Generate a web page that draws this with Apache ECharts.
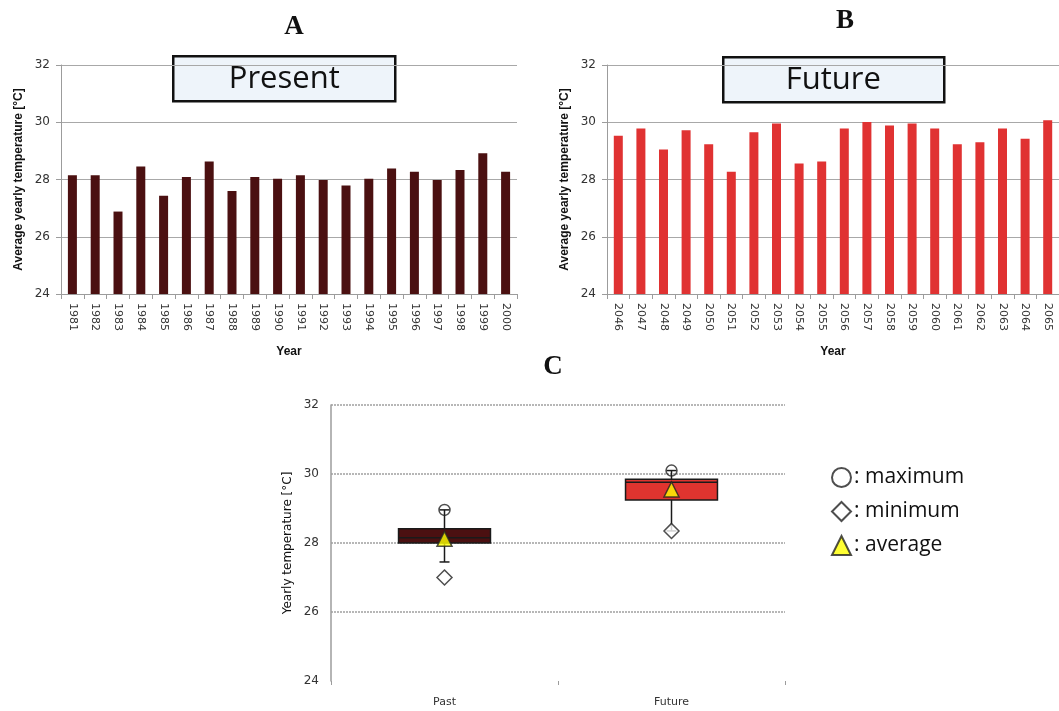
<!DOCTYPE html>
<html><head><meta charset="utf-8">
<script src="https://cdn.jsdelivr.net/npm/echarts@6/dist/echarts.min.js"></script>
<style>html,body{margin:0;padding:0;background:#fff}#c{width:1059px;height:711px}</style>
</head><body><div id="c"></div><script>
// ---- data ----
const presentYears = ['1981','1982','1983','1984','1985','1986','1987','1988','1989','1990','1991','1992','1993','1994','1995','1996','1997','1998','1999','2000'];
const presentTemps = [28.15, 28.15, 26.88, 28.45, 27.43, 28.09, 28.63, 27.60, 28.09, 28.03, 28.15, 27.98, 27.79, 28.03, 28.38, 28.27, 27.98, 28.33, 28.92, 28.27];
const futureYears = ['2046','2047','2048','2049','2050','2051','2052','2053','2054','2055','2056','2057','2058','2059','2060','2061','2062','2063','2064','2065'];
const futureTemps = [29.53, 29.78, 29.05, 29.72, 29.23, 28.27, 29.65, 29.96, 28.56, 28.63, 29.78, 30.01, 29.89, 29.96, 29.78, 29.23, 29.30, 29.78, 29.42, 30.07];
const boxCategories = ['Past', 'Future'];
const whiskerLow = [27.45, 28.35];
const boxQ1 = [28.00, 29.25];
const boxMedian = [28.15, 29.76];
const boxQ3 = [28.41, 29.85];
const whiskerHigh = [28.96, 30.10];
const maxValues = [28.96, 30.10];
const minValues = [27.00, 28.35];
const avgValues = [28.12, 29.55];
const yTicks = { min: 24, max: 32, interval: 2 };

const maroon = '#4b1011';
const red = '#e03232';
const boxColors = [maroon, '#e0342f'];

const chart = echarts.init(document.getElementById('c'));
const axisGray = '#9c9c9c';

function barValueAxis(gi, name) {
  return {
    type: 'value', gridIndex: gi, min: yTicks.min, max: yTicks.max, interval: yTicks.interval,
    name: name, nameLocation: 'middle', nameGap: 36,
    nameTextStyle: { fontFamily: 'Liberation Sans', fontWeight: 'bold', fontSize: 12, color: '#111' },
    axisLine: { show: true, lineStyle: { color: axisGray, width: 1 } },
    axisTick: { show: true, length: 5, lineStyle: { color: axisGray } },
    axisLabel: { fontFamily: 'DejaVu Sans', fontSize: 12, color: '#333', margin: 11 },
    splitLine: { show: true, lineStyle: { color: '#a8a8a8', width: 1 } }
  };
}
function barCatAxis(gi, data) {
  return {
    type: 'category', gridIndex: gi, data: data,
    name: 'Year', nameLocation: 'middle', nameGap: 52,
    nameTextStyle: { fontFamily: 'Liberation Sans', fontWeight: 'bold', fontSize: 12, color: '#111' },
    axisLine: { show: true, lineStyle: { color: axisGray, width: 1 } },
    axisTick: { show: true, length: 5, lineStyle: { color: axisGray } },
    axisLabel: { rotate: -90, interval: 0, fontFamily: 'DejaVu Sans', fontSize: 11, color: '#333', margin: 9 }
  };
}

const option = {
  animation: false,
  backgroundColor: '#fff',
  title: [
    { text: 'A', left: 289, top: 9, textAlign: 'center', textStyle: { fontFamily: 'Liberation Serif', fontWeight: 'bold', fontSize: 27, color: '#111' } },
    { text: 'B', left: 840, top: 3, textAlign: 'center', textStyle: { fontFamily: 'Liberation Serif', fontWeight: 'bold', fontSize: 27, color: '#111' } },
    { text: 'C', left: 548, top: 349, textAlign: 'center', textStyle: { fontFamily: 'Liberation Serif', fontWeight: 'bold', fontSize: 27, color: '#111' } }
  ],
  grid: [
    { left: 61, top: 65, width: 456, height: 229 },
    { left: 607, top: 65, width: 454, height: 229 },
    { left: 331, top: 405, width: 454, height: 276 }
  ],
  xAxis: [
    barCatAxis(0, presentYears),
    barCatAxis(1, futureYears),
    {
      type: 'category', gridIndex: 2, data: boxCategories,
      axisLine: { show: false },
      axisTick: { show: true, length: 4, lineStyle: { color: axisGray } },
      axisLabel: { fontFamily: 'DejaVu Sans', fontSize: 11, color: '#333', margin: 16 }
    }
  ],
  yAxis: [
    barValueAxis(0, 'Average yearly temperature [°C]'),
    barValueAxis(1, 'Average yearly temperature [°C]'),
    {
      type: 'value', gridIndex: 2, min: yTicks.min, max: yTicks.max, interval: yTicks.interval,
      name: 'Yearly temperature [°C]', nameLocation: 'middle', nameGap: 37,
      nameTextStyle: { fontFamily: 'DejaVu Sans', fontSize: 12, color: '#111' },
      axisLine: { show: true, lineStyle: { color: axisGray, width: 1.5 } },
      axisTick: { show: false },
      axisLabel: { fontFamily: 'DejaVu Sans', fontSize: 12, color: '#333', margin: 12 },
      splitLine: { show: true, showMinLine: false, lineStyle: { color: '#a0a0a0', width: 1.5, type: [2, 1] } }
    }
  ],
  legend: {
    orient: 'vertical', left: 826, top: 462, itemGap: 13, itemWidth: 19, itemHeight: 19,
    data: ['maximum', 'minimum', 'average'],
    formatter: ': {name}',
    textStyle: { fontFamily: 'Open Sans', fontSize: 21, color: '#111', padding: [0, 0, 0, -2] }
  },
  graphic: [
    { type: 'group', left: 172, top: 55, children: [
      { type: 'rect', shape: { x: 0, y: 0, width: 222, height: 45 }, style: { fill: '#eef4fa', stroke: '#111', lineWidth: 2.5 } },
      { type: 'text', x: 111, y: 23, style: { text: 'Present', fontFamily: 'Open Sans', fontSize: 31, fill: '#111', align: 'center', verticalAlign: 'middle' } }
    ]},
    { type: 'group', left: 722, top: 56, children: [
      { type: 'rect', shape: { x: 0, y: 0, width: 221, height: 45 }, style: { fill: '#eef4fa', stroke: '#111', lineWidth: 2.5 } },
      { type: 'text', x: 110, y: 23, style: { text: 'Future', fontFamily: 'Open Sans', fontSize: 31, fill: '#111', align: 'center', verticalAlign: 'middle' } }
    ]}
  ],
  series: [
    { type: 'bar', xAxisIndex: 0, yAxisIndex: 0, data: presentTemps, barWidth: 9, itemStyle: { color: maroon } },
    { type: 'bar', xAxisIndex: 1, yAxisIndex: 1, data: futureTemps, barWidth: 9, itemStyle: { color: red } },
    {
      type: 'custom', xAxisIndex: 2, yAxisIndex: 2, z: 2,
      data: boxCategories.map((c, i) => [i, whiskerLow[i], boxQ1[i], boxMedian[i], boxQ3[i], whiskerHigh[i]]),
      encode: { x: 0, y: [1, 2, 3, 4, 5] },
      renderItem: function (params, api) {
        const idx = api.value(0);
        const pLow = api.coord([idx, api.value(1)]);
        const pQ1 = api.coord([idx, api.value(2)]);
        const pMed = api.coord([idx, api.value(3)]);
        const pQ3 = api.coord([idx, api.value(4)]);
        const pHigh = api.coord([idx, api.value(5)]);
        const cx = pQ1[0];
        const w = api.size([1, 0])[0] * 0.405;
        const cap = 5;
        const ls = { stroke: '#1a1a1a', lineWidth: 1.5 };
        return { type: 'group', children: [
          { type: 'line', shape: { x1: cx, y1: pHigh[1], x2: cx, y2: pQ3[1] }, style: ls },
          { type: 'line', shape: { x1: cx, y1: pQ1[1], x2: cx, y2: pLow[1] }, style: ls },
          { type: 'line', shape: { x1: cx - cap, y1: pHigh[1], x2: cx + cap, y2: pHigh[1] }, style: ls },
          { type: 'line', shape: { x1: cx - cap, y1: pLow[1], x2: cx + cap, y2: pLow[1] }, style: ls },
          { type: 'rect', shape: { x: cx - w / 2, y: pQ3[1], width: w, height: pQ1[1] - pQ3[1] }, style: { fill: boxColors[params.dataIndex], stroke: '#1a1a1a', lineWidth: 1.5 } },
          { type: 'line', shape: { x1: cx - w / 2, y1: pMed[1], x2: cx + w / 2, y2: pMed[1] }, style: { stroke: '#1a1a1a', lineWidth: 1.5 } }
        ]};
      }
    },
    { name: 'maximum', type: 'scatter', xAxisIndex: 2, yAxisIndex: 2, z: 3, data: maxValues, symbol: 'circle', symbolSize: 11,
      itemStyle: { color: 'rgba(255,255,255,0)', borderColor: '#222', borderWidth: 1.5 } },
    { name: 'minimum', type: 'scatter', xAxisIndex: 2, yAxisIndex: 2, z: 3, data: minValues, symbol: 'diamond', symbolSize: 15,
      itemStyle: { color: '#fff', borderColor: '#222', borderWidth: 1.5 } },
    { name: 'average', type: 'scatter', xAxisIndex: 2, yAxisIndex: 2, z: 4, data: avgValues, symbol: 'triangle', symbolSize: 15,
      itemStyle: { color: '#ffff00', borderColor: '#222', borderWidth: 1.5 } }
  ]
};
chart.setOption(option);
</script></body></html>
